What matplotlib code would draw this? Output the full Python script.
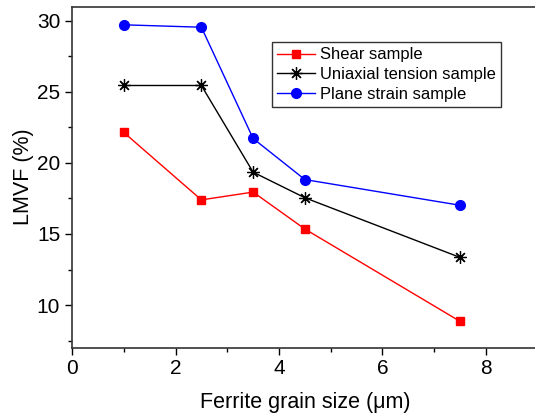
import numpy as np
import matplotlib
matplotlib.use("Agg")
import matplotlib.pyplot as plt
from matplotlib.ticker import MultipleLocator

plt.rcParams['font.family'] = ['Liberation Sans', 'DejaVu Sans']

#=========================================
# data
#=========================================
grain_size = [1.0, 2.5, 3.5, 4.5, 7.5]
shear = [22.15, 17.4, 17.95, 15.35, 8.85]
uniaxial = [25.45, 25.45, 19.35, 17.55, 13.35]
plane_strain = [29.72, 29.55, 21.72, 18.83, 17.02]

fig = plt.figure(figsize=(5.35, 4.19), dpi=100)
ax = fig.add_axes([0.1346, 0.1702, 0.8705, 0.814])

ax.plot(grain_size, shear, color='red', lw=1, marker='s', ms=6, label='Shear sample')
ax.plot(grain_size, uniaxial, color='black', lw=1, marker=(8, 2, 0), ms=9,
        mew=0.9, label='Uniaxial tension sample')
ax.plot(grain_size, plane_strain, color='blue', lw=1, marker='o', ms=7,
        label='Plane strain sample')

ax.set_xlim(0, 9)
ax.set_ylim(7, 31)
ax.xaxis.set_major_locator(MultipleLocator(2))
ax.xaxis.set_minor_locator(MultipleLocator(1))
ax.yaxis.set_major_locator(MultipleLocator(5))
ax.yaxis.set_minor_locator(MultipleLocator(2.5))
ax.tick_params(which='both', direction='out', top=False, right=False,
               labelsize=15, width=1)
ax.tick_params(which='major', length=5)
ax.tick_params(which='minor', length=3)
for s in ax.spines.values():
    s.set_linewidth(1.2)
    s.set_color('#333333')
ax.spines['right'].set_visible(False)

ax.set_xlabel('Ferrite grain size (μm)', fontsize=15.5, labelpad=10)
ax.set_ylabel('LMVF (%)', fontsize=15.5, labelpad=2)

leg = ax.legend(loc='upper left', bbox_to_anchor=(272 / 535, 1 - 42 / 419),
                bbox_transform=fig.transFigure, fontsize=11.9, frameon=True,
                fancybox=False, edgecolor='black', handlelength=2.3,
                borderpad=0.32, labelspacing=0.28, handletextpad=0.3,
                borderaxespad=0)
leg.get_frame().set_linewidth(1)

fig.savefig('out.png', dpi=100)
